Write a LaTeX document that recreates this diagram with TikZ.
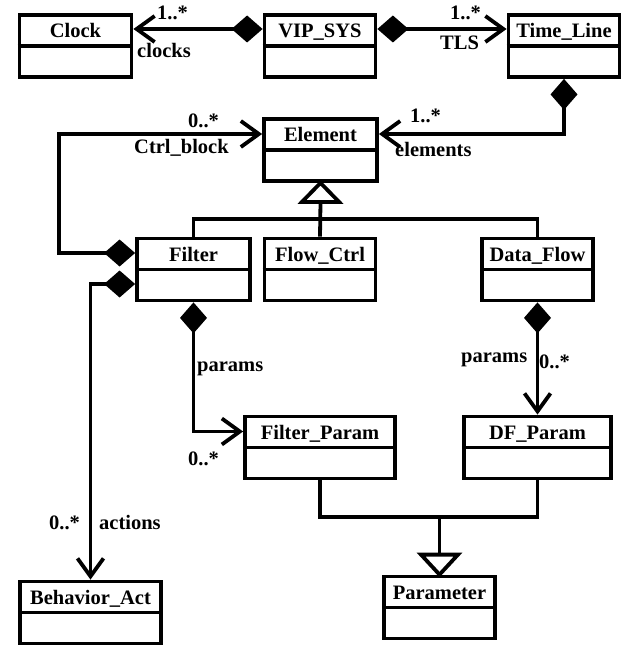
\documentclass[tikz,border=0pt]{standalone}
\usepackage{fontspec}
\setmainfont{Liberation Serif}
\usetikzlibrary{arrows.meta}

\tikzset{
  classbox/.style={draw, line width=3.8bp, minimum height=62bp, inner sep=0pt},
  classname/.style={font=\fontsize{20.5bp}{24bp}\selectfont\bfseries, anchor=base, inner sep=0pt},
  rolelabel/.style={font=\fontsize{20.5bp}{24bp}\selectfont\bfseries, anchor=base west, inner sep=0pt},
  link/.style={line width=3.8bp, line join=miter},
  diamondtip/.tip={Diamond[length=31bp,width=27bp]},
  barbtip/.tip={Straight Barb[length=18bp,width=26bp,line width=3.8bp]},
  compose/.style={link, diamondtip-barbtip},
  hollowtri/.style={link, fill=white},
}

% class box with a name compartment and an empty attribute compartment
\newcommand\umlclass[5]{%
  \node[classbox, minimum width=#4bp] (#1) at (#2,#3) {};
  \draw[line width=3.8bp] (#1.west) -- (#1.east);
  \node[classname] (#1T) at ([yshift=8.5bp]#1.center) {#5};
}

\begin{document}
\begin{tikzpicture}[x=1bp, y=-1bp]
\useasboundingbox (0,0) rectangle (624,646);

\umlclass{clock}{75.5}{46}{112}{Clock}
\umlclass{vip}{320}{46}{111}{VIP\_SYS}
\umlclass{tl}{564}{46}{111}{Time\_Line}
\umlclass{elem}{320.5}{150}{113}{Element}
\umlclass{filter}{193.5}{269.5}{113}{Filter}
\umlclass{flow}{320}{269.5}{111}{Flow\_Ctrl}
\umlclass{df}{537.5}{269.5}{111}{Data\_Flow}
\umlclass{fp}{320}{447.5}{150}{Filter\_Param}
\umlclass{dfp}{537.5}{447.5}{147}{DF\_Param}
\umlclass{ba}{90.5}{612.5}{141}{Behavior\_Act}
\umlclass{param}{439.5}{607.5}{111}{Parameter}

% composition links
\draw[compose] ([yshift=17bp]vip.west) -- ([yshift=17bp]clock.east);
\draw[compose] ([yshift=17bp]vip.east) -- ([yshift=17bp]tl.west);
\draw[compose] (tl.south) |- ([yshift=16bp]elem.east);
\coordinate (ctrlturn) at (59,134);
\draw[compose] ([yshift=16.5bp]filter.west) -| (ctrlturn) -- ([yshift=16bp]elem.west);
\draw[compose] ([yshift=-14.5bp]filter.west) -| (ba.north);
\draw[compose] (filter.south) |- ([yshift=16bp]fp.west);
\draw[compose] (df.south) -- (dfp.north);

% generalisation links with hollow triangle heads
\coordinate (genA) at (320,219);
\coordinate (triA) at ([yshift=-19bp]elem.south);
\draw[link] (filter.north) |- (genA) -| (df.north);
\draw[link] (flow.north) -- (triA);
\draw[hollowtri] (elem.south) -- ([xshift=-18.5bp]triA) -- ([xshift=18.5bp]triA) -- cycle;
\coordinate (genB) at (439.5,517);
\coordinate (triB) at ([yshift=20bp]param.north);
\draw[link] (fp.south) |- (genB) -| (dfp.south);
\draw[link] (genB) -- (triB);
\draw[hollowtri] (param.north) -- ([xshift=-18.5bp]triB) -- ([xshift=18.5bp]triB) -- cycle;

% roles and multiplicities
\node[rolelabel] (m1) at (157,20) {1..*};
\node[rolelabel] (r1) at (137,58) {clocks};
\node[rolelabel] (m2) at (450,20) {1..*};
\node[rolelabel] (r2) at (440,50) {TLS};
\node[rolelabel] (m3) at (410,123) {1..*};
\node[rolelabel] (r3) at (395,157) {elements};
\node[rolelabel] (m4) at (188,128) {0..*};
\node[rolelabel] (r4) at (134,154) {Ctrl\_block};
\node[rolelabel] (r5) at (197,371) {params};
\node[rolelabel] (m5) at (188,465) {0..*};
\node[rolelabel] (m6) at (49,529) {0..*};
\node[rolelabel] (r6) at (99,529) {actions};
\node[rolelabel] (r7) at (461,362) {params};
\node[rolelabel] (m7) at (539,368) {0..*};
\end{tikzpicture}
\end{document}
